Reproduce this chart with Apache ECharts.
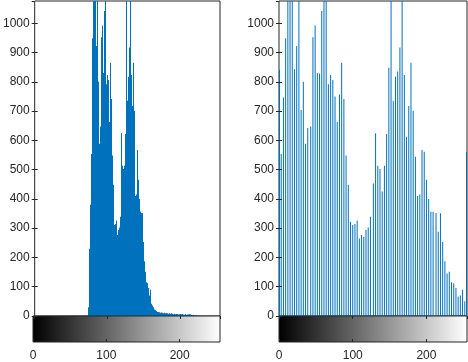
<!DOCTYPE html>
<html>
<head>
<meta charset="utf-8">
<script src="https://cdn.jsdelivr.net/npm/echarts@6/dist/echarts.min.js"></script>
<style>
html,body{margin:0;padding:0;background:#ffffff;}
#chart{width:468px;height:362px;}
</style>
</head>
<body>
<div id="chart"></div>
<script>
// ---------------- data ----------------
// Left: histogram of the original image, count per gray level 0..255
const leftCounts = [
  0,0,0,0,0,0,0,0,0,0,
  0,0,0,0,0,0,0,0,0,0,
  0,0,0,0,0,0,0,0,0,0,
  0,0,0,0,0,0,0,0,0,0,
  0,0,0,0,0,0,0,0,0,0,
  0,0,0,0,0,0,0,0,0,0,
  0,0,0,0,0,0,0,0,0,0,
  0,0,0,0,30,200,230,380,553,746,
  949,1180,1150,1210,843,922,1130,704,800,588,
  642,647,952,992,830,828,1042,1160,1190,792,
  823,806,750,663,757,865,741,548,448,322,
  311,314,326,265,277,271,294,302,339,453,
  624,513,502,425,513,622,848,1170,735,817,
  835,917,1140,823,612,717,865,701,544,410,
  415,567,561,465,400,356,356,352,288,351,
  253,187,145,151,115,112,96,67,70,90,
  50,42,36,30,26,22,20,17,16,14,
  14,12,13,11,12,10,11,9,10,11,
  9,8,10,9,8,9,7,8,9,7,
  8,6,7,8,6,7,6,7,5,6,
  7,5,6,5,6,5,4,5,6,4,
  5,4,5,6,4,5,4,3,4,3,
  2,3,2,1,1,0,0,0,0,0,
  0,0,0,0,0,0,0,0,0,0,
  0,0,0,0,0,0,0,0,0,0,
  0,0,0,0,0,0
];

// Right: histogram of the contrast-stretched image (occupied gray levels only)
const rightLevels = [
  0,3,6,9,12,15,18,21,24,27,
  30,33,36,39,43,46,49,52,55,58,
  61,64,67,70,73,76,79,82,85,88,
  91,94,97,100,103,106,109,112,115,118,
  121,124,128,131,134,137,140,143,146,149,
  152,155,158,161,164,167,170,173,176,179,
  182,185,188,191,194,197,200,203,206,209,
  213,216,219,222,225,228,231,234,237,240,
  243,246,249,252,255
];
const rightCounts = [
  841,553,746,949,1180,1150,1210,843,922,1130,
  704,800,588,642,647,952,992,830,828,1042,
  1160,1190,792,823,806,750,663,757,865,741,
  548,448,322,311,314,326,265,277,271,294,
  302,339,453,624,513,502,425,513,622,848,
  1170,735,817,835,917,1140,823,612,717,865,
  701,544,410,415,567,561,465,400,356,356,
  352,288,351,253,187,145,151,115,112,96,
  67,70,90,50,560
];

// colour-bar gray range and axis limits
const grayRange = [0, 255];
const xTickValues = [0, 100, 200];
const yTickValues = [0, 100, 200, 300, 400, 500, 600, 700, 800, 900, 1000];
const yLimit = 1076;

// ---------------- chart ----------------
const STEM = '#0072BD';
const AXIS = '#262626';
const FONT = 'Liberation Sans, Arial, Helvetica, sans-serif';

const chart = echarts.init(document.getElementById('chart'), null, {renderer: 'canvas'});

function makeStem(snap) {
  return function (params, api) {
    const x = api.value(0), y = api.value(1);
    const base = api.coord([x, 0]);
    const tip = api.coord([x, Math.min(y, yLimit)]);
    const xl = api.coord([grayRange[0], 0])[0];
    const xr = api.coord([grayRange[1], 0])[0];
    let px = Math.min(Math.max(base[0] - 0.5, xl), xr - 1);
    if (snap) px = Math.min(Math.max(Math.floor(base[0]), Math.ceil(xl)), Math.floor(xr) - 1);
    return {
      type: 'rect',
      shape: {x: px, y: tip[1], width: 1, height: base[1] - tip[1]},
      style: {fill: STEM, stroke: null, lineWidth: 0}
    };
  };
}

function barItem(params, api) {
  const a = api.coord([api.value(0), 1]);
  const b = api.coord([api.value(1), 0]);
  return {
    type: 'rect',
    shape: {x: a[0], y: a[1], width: b[0] - a[0], height: b[1] - a[1]},
    style: {
      fill: new echarts.graphic.LinearGradient(0, 0, 1, 0, [
        {offset: 0, color: '#000000'},
        {offset: 1, color: '#ffffff'}
      ]),
      stroke: AXIS,
      lineWidth: 1
    }
  };
}

const labelFmt = (list) => (v) => (list.indexOf(v) >= 0 ? String(v) : '');

function histX(grid, pos, ticks) {
  return {
    type: 'value', gridIndex: grid, position: pos, min: grayRange[0], max: grayRange[1], interval: 100,
    z: 10,
    axisLine: {show: false},
    axisTick: {show: ticks, inside: true, length: 3, lineStyle: {color: AXIS}},
    axisLabel: {show: false},
    splitLine: {show: false}
  };
}
function barX(grid) {
  return {
    type: 'value', gridIndex: grid, position: 'bottom', min: grayRange[0], max: grayRange[1], interval: 100,
    z: 10,
    axisLine: {show: false},
    axisTick: {show: true, inside: true, length: 3, lineStyle: {color: AXIS}},
    axisLabel: {show: true, margin: 8, fontSize: 12, color: AXIS, fontFamily: FONT,
                formatter: labelFmt(xTickValues), showMaxLabel: false},
    splitLine: {show: false}
  };
}
function histY(grid, pos, labels) {
  return {
    type: 'value', gridIndex: grid, position: pos, min: 0, max: yLimit, interval: 100,
    z: 10,
    axisLine: {show: false},
    axisTick: {show: true, inside: true, length: 3, lineStyle: {color: AXIS}},
    axisLabel: {show: labels, margin: 5, fontSize: 12, color: AXIS, fontFamily: FONT,
                formatter: labelFmt(yTickValues), showMaxLabel: false},
    splitLine: {show: false}
  };
}
function barY(grid) {
  return {
    type: 'value', gridIndex: grid, min: 0, max: 1, show: false
  };
}

const gridBox = {show: true, borderColor: AXIS, borderWidth: 1, backgroundColor: 'transparent'};

chart.setOption({
  animation: false,
  backgroundColor: '#ffffff',
  grid: [
    Object.assign({left: 33, top: 1, width: 187, height: 315}, gridBox),
    {left: 33, top: 316, width: 187, height: 26},
    Object.assign({left: 279, top: 1, width: 188, height: 315}, gridBox),
    {left: 279, top: 316, width: 188, height: 26}
  ],
  xAxis: [
    histX(0, 'bottom', false),
    histX(0, 'top', true),
    barX(1),
    histX(2, 'bottom', false),
    histX(2, 'top', true),
    barX(3)
  ],
  yAxis: [
    histY(0, 'left', true),
    histY(0, 'right', false),
    barY(1),
    histY(2, 'left', true),
    histY(2, 'right', false),
    barY(3)
  ],
  series: [
    {
      type: 'custom', name: 'original', xAxisIndex: 0, yAxisIndex: 0,
      renderItem: makeStem(true),
      data: leftCounts.map((c, level) => [level, c]).filter(d => d[1] > 0)
    },
    {
      type: 'custom', name: 'grayBarL', xAxisIndex: 2, yAxisIndex: 2,
      renderItem: barItem, data: [grayRange]
    },
    {
      type: 'custom', name: 'stretched', xAxisIndex: 3, yAxisIndex: 3,
      renderItem: makeStem(false),
      data: rightLevels.map((lv, i) => [lv, rightCounts[i]])
    },
    {
      type: 'custom', name: 'grayBarR', xAxisIndex: 5, yAxisIndex: 5,
      renderItem: barItem, data: [grayRange]
    }
  ]
});
</script>
</body>
</html>
